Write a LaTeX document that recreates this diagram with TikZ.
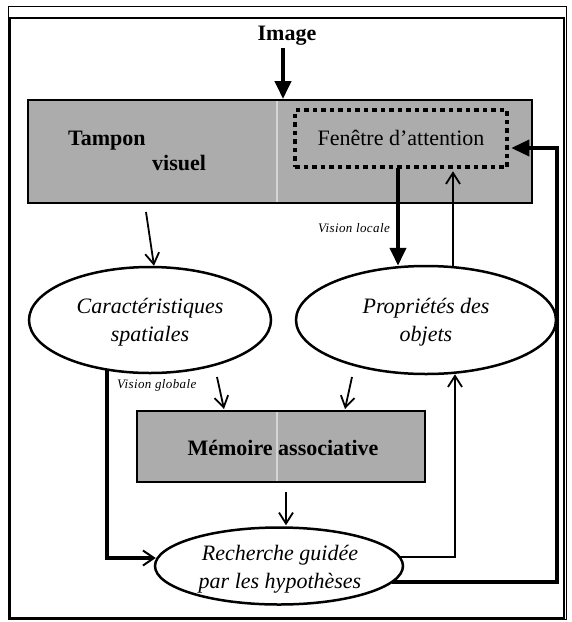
\documentclass[tikz,border=0pt]{standalone}
\usepackage{fontspec}
\setmainfont{Liberation Serif}
\usetikzlibrary{arrows.meta,shapes.geometric,calc}
\definecolor{boxgrey}{RGB}{172,172,172}
\tikzset{
  greybox/.style={draw=black, line width=2pt, fill=boxgrey, inner sep=0pt},
  oval/.style={ellipse, draw=black, line width=2.5pt, fill=white, inner sep=0pt},
  dotbox/.style={draw=black, line width=4.5pt, dash pattern=on 4.5pt off 4pt, inner sep=0pt},
  boldtxt/.style={font=\fontsize{22}{28}\selectfont\bfseries, inner sep=0pt},
  itxt/.style={font=\fontsize{22}{28}\selectfont\itshape, align=center, inner sep=0pt},
  smalltxt/.style={font=\fontsize{13}{15}\selectfont\itshape\addfontfeatures{LetterSpace=3}, inner sep=0pt},
  thinarrow/.style={line width=1.8pt, -{Straight Barb[length=11pt,width=14pt,line width=1.8pt]}},
  midarrow/.style={line width=2.4pt, -{Straight Barb[length=11pt,width=14pt,line width=1.8pt]}},
  bigarrow/.style={line width=4pt, -{Triangle[length=18pt,width=16pt]}},
  loopline/.style={line width=3.5pt},
}
\begin{document}
\begin{tikzpicture}[x=1pt,y=-1pt]
\useasboundingbox (0,0) rectangle (572,622);
% frame
\draw[line width=0.6pt] (8,6) rectangle (566,619);
\draw[line width=1.8pt] (10,18) rectangle (564,618);

% top buffer
\node[greybox, minimum width=504pt, minimum height=103pt] (buf) at (280,151.5) {};
\draw[white, line width=2pt, opacity=0.5] ($(buf.north)+(-3,2)$) -- ($(buf.south)+(-3,-2)$);
\node[boldtxt, anchor=base west] (tampon) at (68,145) {Tampon};
\node[boldtxt, anchor=base west] (visuel) at (152,170) {visuel};
\node[dotbox, minimum width=212pt, minimum height=57pt] (win) at (401,138.5) {};
\node[font=\fontsize{22}{28}\selectfont, inner sep=0pt, anchor=base] (wintxt) at (401,145) {Fenêtre d'attention};

% image
\node[boldtxt, anchor=base] (img) at (287,40) {Image};
\coordinate (ia) at (283,48);
\draw[bigarrow] (ia) -- (ia |- buf.north);

% ellipses
\node[oval, minimum width=242pt, minimum height=106pt] (car) at (150,320) {};
\node[itxt] (cartxt) at (150,322) {Caractéristiques\\spatiales};
\node[oval, minimum width=260pt, minimum height=108pt] (prop) at (426,320) {};
\node[itxt] (proptxt) at (426,322) {Propriétés des\\objets};

% memory
\node[greybox, minimum width=288pt, minimum height=71pt] (mem) at (281,446.5) {};
\draw[white, line width=2pt, opacity=0.5] ($(mem.north)+(-4,2)$) -- ($(mem.south)+(-4,-2)$);
\node[boldtxt, anchor=base] (memtxt) at (283,455) {Mémoire associative};

% search
\node[oval, minimum width=248pt, minimum height=77pt] (rech) at (279,566) {};
\node[itxt] (rechtxt) at (280,569) {Recherche guidée\\par les hypothèses};

% labels
\node[smalltxt, anchor=base east] (vloc) at (390,232) {Vision locale};
\node[smalltxt, anchor=base west] (vglob) at (117,388) {Vision globale};

% arrows
\draw[thinarrow] (146,212) -- ($(car.north)+(4,0)$);
\coordinate (vl) at (398,168);
\draw[bigarrow] (vl) -- ($(vl |- prop.north)+(0,1)$);
\draw[thinarrow] ($(prop.north)+(27,1)$) -- ($(win.south)+(52,2)$);
\draw[thinarrow] (217,377) -- ($(mem.north)+(-57,-1)$);
\draw[thinarrow] (352,377) -- ($(mem.north)+(64,-1)$);
\draw[thinarrow] ($(mem.south)+(5,9)$) -- ($(rech.north)+(7,-1)$);

% loops
\draw[loopline, -{Straight Barb[length=11pt,width=15pt,line width=2pt]}]
  ($(car.south)+(-43,-4)$) |- ($(rech.west)+(2,-8)$);
\draw[midarrow] ($(rech.east)+(-4,-9)$) -| ($(prop.south)+(29,-1)$);
\coordinate (lc) at (557,582);
\draw[loopline, -{Triangle[length=18pt,width=16pt]}]
  ($(rech.east)+(-12,16)$) -- (lc) |- ($(win.east)+(2,9.5)$);
\end{tikzpicture}
\end{document}
